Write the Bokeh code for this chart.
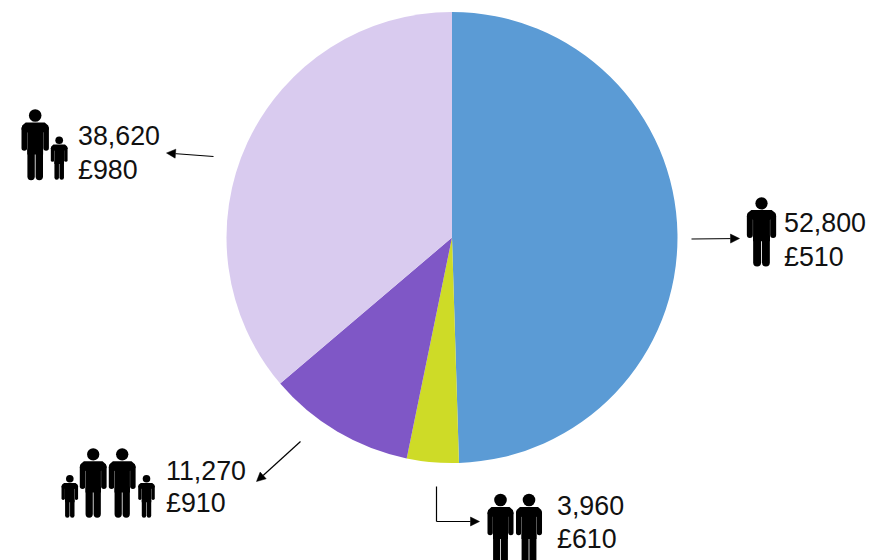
from math import pi
from bokeh.embed import file_html
from bokeh.resources import INLINE
from bokeh.plotting import figure
from bokeh.models import Arrow, NormalHead
from bokeh.core.properties import value

# Households by composition, clockwise from twelve o'clock
groups = ["single adult", "two adults", "two adults with children", "single parent"]
households = [52800, 3960, 11270, 38620]
average_cost = [510, 610, 910, 980]
slice_colors = ["#5B9BD5", "#CEDB27", "#7F57C6", "#D9CBEF"]

W, H = 881, 560
p = figure(width=W, height=H, x_range=(0, W), y_range=(0, H), output_backend="svg",
           toolbar_location=None, min_border=0, outline_line_color=None,
           background_fill_color="white", border_fill_color="white")
p.axis.visible = False
p.grid.visible = False


def Y(y):
    """Convert a distance from the top edge to a data y."""
    return H - y


# Pie slices, built from the household counts
total = sum(households)
cx, cy, radius = 451.5, 237, 225.5
angle = pi / 2
for count, color in zip(households, slice_colors):
    sweep = 2 * pi * count / total
    p.wedge(x=[cx], y=[Y(cy)], radius=radius, start_angle=angle - sweep, end_angle=angle,
            fill_color=color, line_color=None)
    angle -= sweep


def person(center, top, height, stretch=1.0):
    """Draw a standing figure: head, shoulders, torso, arms and legs."""
    s = height / 72
    sx = s * stretch
    px = lambda dx: center + dx * sx
    py = lambda dy: Y(top + dy * s)
    p.circle(x=[px(0)], y=[py(7)], radius=6.3 * s, fill_color="black", line_color=None)
    p.patch(x=[px(d) for d in (-13.7, -13, -9.5, 9.5, 13, 13.7, 7.9, 7.9, -7.9, -7.9)],
            y=[py(d) for d in (21, 17, 14, 14, 17, 21, 24, 46, 46, 24)],
            fill_color="black", line_color=None)
    for side in (-1, 1):
        p.line(x=[px(side * 10.9)] * 2, y=[py(20), py(39.5)], line_color="black",
               line_width=5.6 * sx, line_cap="round")
        p.line(x=[px(side * 4.1)] * 2, y=[py(42), py(68)], line_color="black",
               line_width=7.4 * sx, line_cap="round")


# Pictograms for each household type
person(34.7, 108, 72)
person(58.7, 135.5, 44)
person(761, 196, 70, stretch=1.1)
person(69.3, 474, 43.5)
person(92.7, 447, 70.5)
person(121.7, 447, 70.5)
person(146, 474, 43.5)
person(500, 492.5, 72, stretch=0.95)
person(528.5, 492.5, 72, stretch=0.95)

# Two-line captions: household count, then average cost
caption_at = {0: (783.5, 222, 256), 1: (556.5, 504.5, 538.5), 2: (165.5, 469.5, 502.5), 3: (77.5, 135, 169)}
for i, (x, y1, y2) in caption_at.items():
    p.text(x=[x, x], y=[Y(y1), Y(y2)],
           text=[f"{households[i]:,}", f"£{average_cost[i]:,}"],
           text_font=value("Liberation Sans"), text_font_size="26.8px",
           text_color="#111111", text_align="left", text_baseline="middle")


def pointer(x0, y0, x1, y1):
    head = NormalHead(size=9, fill_color="black", line_color="black", line_width=0.5)
    p.add_layout(Arrow(end=head, x_start=x0, y_start=Y(y0), x_end=x1, y_end=Y(y1),
                       line_color="black", line_width=1.2))


# Leader arrows from the slices to their captions
pointer(213, 156, 166, 152.5)
pointer(691, 238.5, 739, 238)
pointer(300, 441, 256, 481)
p.line(x=[436, 436], y=[Y(486), Y(521)], line_color="black", line_width=1.2)
pointer(436, 521, 479, 521)

open("out.html", "w").write(file_html(p, INLINE))
